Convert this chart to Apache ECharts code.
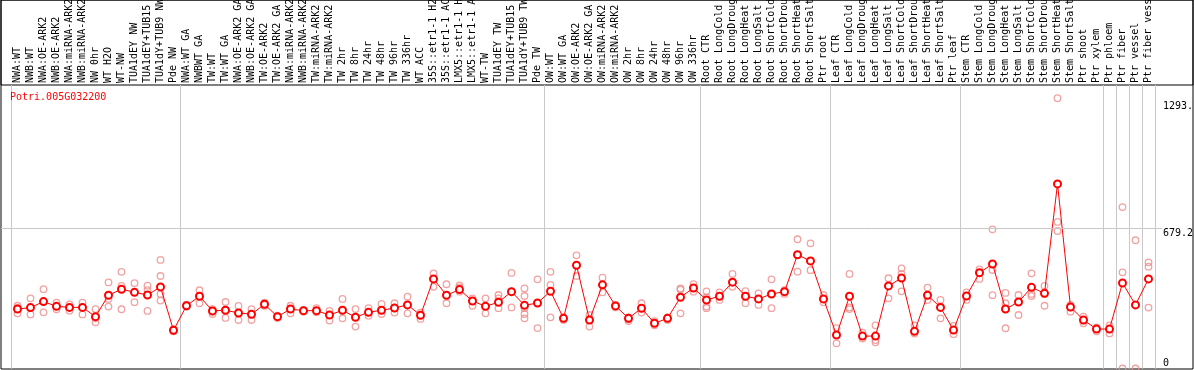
<!DOCTYPE html>
<html><head><meta charset="utf-8">
<script src="https://cdn.jsdelivr.net/npm/echarts@6/dist/echarts.min.js"></script>
<style>html,body{margin:0;padding:0;background:#fff}#c{width:1194px;height:370px}</style>
</head><body><div id="c"></div><script>
const geneId = 'Potri.005G032200';

const categories = [
  'NWA:WT','NWB:WT','NWA:OE-ARK2','NWB:OE-ARK2','NWA:miRNA-ARK2','NWB:miRNA-ARK2','NW 0hr','WT H2O','WT-NW','TUA1dEY NW','TUA1dEY+TUB15 NW','TUA1dY+TUB9 NW','Pde NW',
  'NWA:WT GA','NWBWT GA','TW:WT','TW:WT GA','NWA:OE-ARK2 GA','NWB:OE-ARK2 GA','TW:OE-ARK2','TW:OE-ARK2 GA','NWA:miRNA-ARK2 GA','NWB:miRNA-ARK2 GA','TW:miRNA-ARK2','TW:miRNA-ARK2 GA','TW 2hr','TW 8hr','TW 24hr','TW 48hr','TW 96hr','TW 336hr','WT ACC','35S::etr1-1 H2O','35S::etr1-1 ACC','LMX5::etr1-1 H2O','LMX5::etr1-1 ACC','WT-TW','TUA1dEY TW','TUA1dEY+TUB15 TW','TUA1dY+TUB9 TW','Pde TW',
  'OW:WT','OW:WT GA','OW:OE-ARK2','OW:OE-ARK2 GA','OW:miRNA-ARK2','OW:miRNA-ARK2 GA','OW 2hr','OW 8hr','OW 24hr','OW 48hr','OW 96hr','OW 336hr',
  'Root CTR','Root LongCold','Root LongDrought','Root LongHeat','Root LongSalt','Root ShortCold','Root ShortDrought','Root ShortHeat','Root ShortSalt','Ptr root',
  'Leaf CTR','Leaf LongCold','Leaf LongDrought','Leaf LongHeat','Leaf LongSalt','Leaf ShortCold','Leaf ShortDrought','Leaf ShortHeat','Leaf ShortSalt','Ptr leaf',
  'Stem CTR','Stem LongCold','Stem LongDrought','Stem LongHeat','Stem LongSalt','Stem ShortCold','Stem ShortDrought','Stem ShortHeat','Stem ShortSalt','Ptr shoot','Ptr xylem',
  'Ptr phloem','Ptr fiber','Ptr vessel','Ptr fiber vessel'
];

const groupSizes = [13, 28, 12, 10, 10, 11, 1, 1, 1, 1];

const meanValues = [
  288, 295, 324, 301, 296, 296, 251, 355, 384, 369, 356, 395, 185,
  304, 350, 279, 282, 269, 263, 311, 251, 288, 280, 280, 259, 282, 248, 272, 282, 293, 308, 258, 434, 355, 382, 327, 301, 321, 372, 306, 317,
  374, 243, 500, 235, 405, 303, 243, 292, 219, 243, 345, 390,
  332, 350, 418, 350, 337, 361, 372, 551, 521, 337,
  162, 350, 157, 157, 400, 438, 180, 355, 296, 186,
  351, 464, 506, 288, 322, 393, 364, 894, 298, 235, 191,
  191, 414, 308, 434
];

const replicateValues = [
  [304, 293, 267], [340, 295, 262], [384, 324, 272], [319, 301, 287], [311, 296, 280], [319, 296, 262],
  [288, 243, 224], [417, 337, 300], [468, 400, 287], [413, 369, 321], [401, 380, 279], [526, 448, 361, 329], [190, 185, 180],
  [309, 304, 300], [379, 350, 316], [288, 275, 264], [322, 282, 245], [303, 269, 235], [288, 262, 235], [319, 311, 303],
  [256, 251, 245], [304, 288, 267], [283, 280, 275], [292, 280, 272], [279, 259, 232], [337, 282, 243], [288, 248, 203],
  [292, 272, 256], [313, 282, 264], [316, 292, 271], [348, 308, 267], [271, 258, 240], [461, 434, 396], [408, 355, 316],
  [403, 393, 372], [340, 327, 304], [340, 301, 267], [356, 340, 292], [463, 372, 296], [388, 351, 292, 264, 243], [432, 317, 196],
  [468, 405, 248], [249, 243, 235], [548, 500, 448], [259, 235, 203], [440, 405, 369], [308, 303, 296], [248, 238, 230],
  [316, 292, 271], [229, 219, 209], [248, 243, 235], [388, 382, 267], [409, 390, 372],
  [374, 345, 300, 292], [369, 350, 332], [458, 418, 396], [375, 350, 316], [364, 337, 308], [432, 361, 292], [380, 371, 361],
  [626, 551, 469], [606, 521, 476], [356, 337, 321],
  [196, 162, 122], [458, 296, 288], [174, 157, 145], [209, 138, 127], [437, 400, 340], [485, 458, 374], [209, 180, 169],
  [392, 355, 332], [332, 300, 243], [206, 186, 166],
  [369, 351, 332], [480, 464, 434], [674, 477, 355], [366, 316, 195], [356, 322, 259], [461, 361, 351], [400, 361, 304],
  [1309, 710, 666], [308, 296, 275], [251, 232, 219], [199, 191, 180],
  [209, 191, 170], [782, 466, 0], [621, 308, 0], [514, 493, 295]
];

const yTickValues = [0, 679.2, 1293];
const yTickLabels = ['0', '679.2', '1293.'];
const yMax = 1373;
const gridLineValue = 679.2;

const FONT = 'DejaVu Sans Mono';
const starts = new Set();
let acc = 0;
groupSizes.forEach(s => { starts.add(acc); acc += s; });
const isGroupStart = (i) => starts.has(i);
const labelFor = (v) => { const k = yTickValues.indexOf(v); return k >= 0 ? yTickLabels[k] : ''; };

const scatterData = [];
replicateValues.forEach((reps, i) => reps.forEach(v => scatterData.push([i, v])));

const chart = echarts.init(document.getElementById('c'), null, { renderer: 'canvas' });
chart.setOption({
  animation: false,
  backgroundColor: '#fff',
  title: {
    text: geneId, left: 10, top: 92, padding: 0,
    textStyle: { color: '#ff0000', fontSize: 10, fontFamily: FONT, fontWeight: 'normal' }
  },
  grid: [
    { left: 1, right: 1, top: 0, bottom: 1, show: true, borderColor: '#000', borderWidth: 1, backgroundColor: 'transparent', outerBoundsMode: 'none' },
    { left: 1, right: 1, top: 0, height: 85, show: true, borderColor: '#000', borderWidth: 1, backgroundColor: 'transparent', outerBoundsMode: 'none' },
    { left: 11, width: 1144, top: 85, bottom: 1.5, outerBoundsMode: 'none' },
    { left: 1, right: 32, top: 85, bottom: 1.5, outerBoundsMode: 'none' }
  ],
  xAxis: [
    {
      gridIndex: 2, type: 'category', position: 'top', data: categories, boundaryGap: true,
      axisLine: { show: false },
      axisTick: { show: true, length: 85, interval: isGroupStart, lineStyle: { color: '#c8c8c8', width: 1 } },
      splitLine: { show: true, interval: isGroupStart, lineStyle: { color: '#c8c8c8', width: 1 } },
      axisLabel: { interval: 0, rotate: 90, margin: 2, fontSize: 10, fontFamily: FONT, color: '#000', hideOverlap: false }
    },
    { gridIndex: 3, type: 'value', show: false, min: 0, max: 1 }
  ],
  yAxis: [
    { gridIndex: 2, type: 'value', min: 0, max: yMax, show: false },
    {
      gridIndex: 3, type: 'value', min: 0, max: yMax, position: 'right',
      axisLine: { show: false }, axisTick: { show: false }, splitLine: { show: false },
      axisLabel: { customValues: yTickValues.slice(1), formatter: labelFor, verticalAlign: 'top', align: 'left', margin: 1, fontSize: 10, fontFamily: FONT, color: '#000' }
    },
    {
      gridIndex: 3, type: 'value', min: 0, max: yMax, position: 'right',
      axisLine: { show: false }, axisTick: { show: false }, splitLine: { show: false },
      axisLabel: { customValues: yTickValues.slice(0, 1), formatter: labelFor, verticalAlign: 'bottom', align: 'left', margin: 1, fontSize: 10, fontFamily: FONT, color: '#000' }
    }
  ],
  series: [
    {
      type: 'line', xAxisIndex: 1, yAxisIndex: 1, data: [], silent: true,
      markLine: {
        silent: true, symbol: ['none', 'none'], label: { show: false },
        lineStyle: { color: '#c8c8c8', type: 'solid', width: 1 },
        data: [{ yAxis: gridLineValue }]
      }
    },
    {
      type: 'scatter', xAxisIndex: 0, yAxisIndex: 0, data: scatterData, silent: true, z: 3,
      symbol: 'circle', symbolSize: 6.5,
      itemStyle: { color: 'rgba(255,255,255,0)', borderColor: '#ee8c8c', borderWidth: 1.3 }
    },
    {
      type: 'line', xAxisIndex: 0, yAxisIndex: 0, data: meanValues, silent: true, z: 4,
      symbol: 'emptyCircle', symbolSize: 7, showAllSymbol: true,
      lineStyle: { color: '#ff0000', width: 1 },
      itemStyle: { color: '#ff0000', borderColor: '#ff0000', borderWidth: 1.6 }
    }
  ]
});
</script></body></html>
